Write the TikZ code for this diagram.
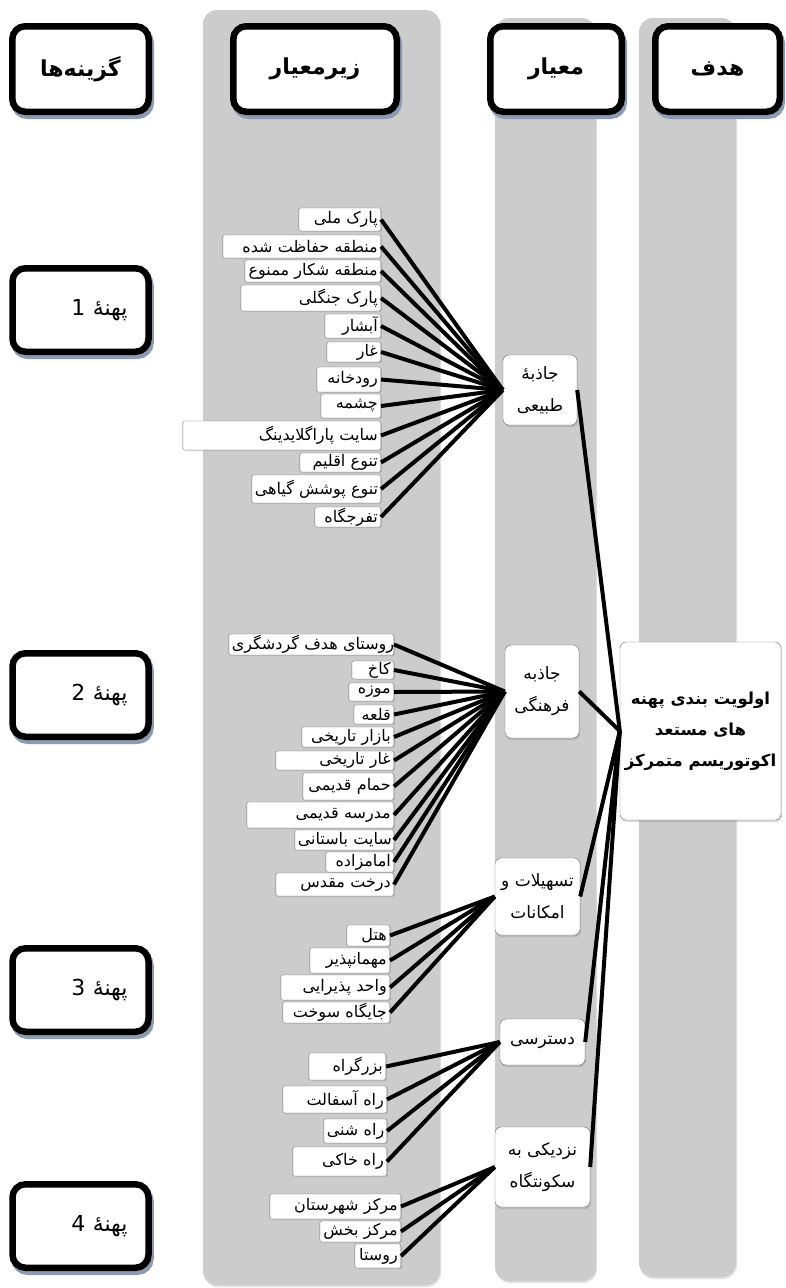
\documentclass[tikz,border=0pt]{standalone}
\usepackage{fontspec}
\usetikzlibrary{positioning,shadows}
\TeXXeTstate=1
\newfontfamily\arabicfont[Script=Arabic]{DejaVu Sans}
\definecolor{colBand}{RGB}{204,204,204}
\definecolor{colShadow}{RGB}{140,155,178}
\definecolor{colEdge}{RGB}{110,110,110}
\newcommand{\fa}[1]{\mbox{\beginR #1\endR}}

\begin{document}
\begin{tikzpicture}[x=1pt,y=-1pt,
  band/.style={fill=colBand, rounded corners=14pt,
    drop shadow={shadow xshift=1pt, shadow yshift=-2pt, fill=black, opacity=0.12}},
  headbox/.style={draw=black, line width=6.5pt, fill=white, rounded corners=13pt,
    minimum height=85.5pt, font=\arabicfont\bfseries\fontsize{22}{26}\selectfont,
    drop shadow={shadow xshift=2pt, shadow yshift=-4pt, fill=colShadow,
      draw=colShadow, line width=6.5pt, opacity=1}},
  altbox/.style={headbox, text width=94pt, inner xsep=21pt, align=right,
    font=\arabicfont\fontsize{22}{26}\selectfont},
  critbox/.style={draw=colEdge, fill=white, rounded corners=6pt, align=center,
    inner sep=2pt, font=\arabicfont\fontsize{17}{32}\selectfont,
    drop shadow={shadow xshift=1pt, shadow yshift=-2pt, opacity=0.3}},
  item/.style={draw=colEdge, fill=white, rounded corners=1.5pt, anchor=east,
    inner xsep=3pt, inner ysep=0pt, align=right,
    font=\arabicfont\fontsize{16}{18}\selectfont,
    drop shadow={shadow xshift=1pt, shadow yshift=-1pt, opacity=0.3}},
  link/.style={line width=4pt}
]
  \useasboundingbox (0,0) rectangle (785,1288);

  % grey bands behind the columns
  \fill[band] (203,10) rectangle (440,1285);
  \fill[band] (495,18) rectangle (596,1281);
  \fill[band] (639,18) rectangle (736,1277);

  % column heads
  \node[headbox, minimum width=136.5pt] (hdAlt) at (80.5,69) {\fa{گزینه‌ها}};
  \node[headbox, minimum width=163.5pt] (hdSub) at (315,69) {\fa{زیرمعیار}};
  \node[headbox, minimum width=131.5pt] (hdCrit) at (556,69) {\fa{معیار}};
  \node[headbox, minimum width=124.5pt] (hdGoal) at (717.5,69) {\fa{هدف}};

  % alternatives
  \node[altbox, minimum height=83.5pt] (alt1) at (80.5,310) {\fa{پهنهٔ 1}};
  \node[altbox, minimum height=83.5pt] (alt2) at (80.5,695) {\fa{پهنهٔ 2}};
  \node[altbox, minimum height=83.5pt] (alt3) at (80.5,990) {\fa{پهنهٔ 3}};
  \node[altbox, minimum height=83.5pt] (alt4) at (80.5,1226) {\fa{پهنهٔ 4}};

  % goal
  \node[critbox, minimum width=161pt, minimum height=178pt,
    font=\arabicfont\bfseries\fontsize{16.5}{31}\selectfont] (goal) at (700.5,731)
    {\fa{اولویت بندی پهنه}\\\fa{های مستعد}\\\fa{اکوتوریسم متمرکز}};

  % criteria
  \node[critbox, minimum width=74pt, minimum height=70pt] (crTab) at (540,390)
    {\fa{جاذبهٔ}\\\fa{طبیعی}};
  \node[critbox, minimum width=74pt, minimum height=93pt] (crFar) at (542,691.5)
    {\fa{جاذبه}\\\fa{فرهنگی}};
  \node[critbox, minimum width=85pt, minimum height=77pt] (crTas) at (537.5,896.5)
    {\fa{تسهیلات و}\\\fa{امکانات}};
  \node[critbox, minimum width=85pt, minimum height=46pt] (crDas) at (542.5,1042)
    {\fa{دسترسی}};
  \node[critbox, minimum width=95pt, minimum height=80pt] (crNaz) at (542.5,1167)
    {\fa{نزدیکی به}\\\fa{سکونتگاه}};

  % sub-criteria: natural
  \node[item, text width=76pt, minimum height=23pt] (tab1) at (381,219.5) {\fa{پارک ملی}};
  \node[item, text width=152pt, minimum height=23pt] (tab2) at (381,246.5) {\fa{منطقه حفاظت شده}};
  \node[item, text width=130pt, minimum height=22pt] (tab3) at (381,271) {\fa{منطقه شکار ممنوع}};
  \node[item, text width=134pt, minimum height=26pt] (tab4) at (381,298) {\fa{پارک جنگلی}};
  \node[item, text width=50pt, minimum height=24pt] (tab5) at (381,326) {\fa{آبشار}};
  \node[item, text width=48pt, minimum height=20pt] (tab6) at (381,352) {\fa{غار}};
  \node[item, text width=58pt, minimum height=25pt] (tab7) at (381,379.5) {\fa{رودخانه}};
  \node[item, text width=54pt, minimum height=24pt] (tab8) at (381,406) {\fa{چشمه}};
  \node[item, text width=192pt, minimum height=29pt] (tab9) at (381,435.5) {\fa{سایت پاراگلایدینگ}};
  \node[item, text width=75pt, minimum height=19pt] (tab10) at (381,462.5) {\fa{تنوع اقلیم}};
  \node[item, text width=123pt, minimum height=28pt] (tab11) at (381,489) {\fa{تنوع پوشش گیاهی}};
  \node[item, text width=60pt, minimum height=20pt] (tab12) at (381,517) {\fa{تفرجگاه}};

  % sub-criteria: cultural
  \node[item, text width=159pt, minimum height=21pt] (far1) at (394,644.5) {\fa{روستای هدف گردشگری}};
  \node[item, text width=36pt, minimum height=18pt] (far2) at (394,670) {\fa{کاخ}};
  \node[item, text width=39pt, minimum height=18pt] (far3) at (394,692) {\fa{موزه}};
  \node[item, text width=34pt, minimum height=19pt] (far4) at (394,714.5) {\fa{قلعه}};
  \node[item, text width=86pt, minimum height=20pt] (far5) at (394,737) {\fa{بازار تاریخی}};
  \node[item, text width=112pt, minimum height=19pt] (far6) at (394,760.5) {\fa{غار تاریخی}};
  \node[item, text width=85pt, minimum height=27pt] (far7) at (394,786.5) {\fa{حمام قدیمی}};
  \node[item, text width=141pt, minimum height=26pt] (far8) at (394,815) {\fa{مدرسه قدیمی}};
  \node[item, text width=93pt, minimum height=20pt] (far9) at (394,840) {\fa{سایت باستانی}};
  \node[item, text width=62pt, minimum height=20pt] (far10) at (394,862) {\fa{امامزاده}};
  \node[item, text width=112pt, minimum height=23pt] (far11) at (394,884.5) {\fa{درخت مقدس}};

  % sub-criteria: facilities
  \node[item, text width=37pt, minimum height=21pt] (tas1) at (390,935.5) {\fa{هتل}};
  \node[item, text width=74pt, minimum height=25pt] (tas2) at (390,960.5) {\fa{مهمانپذیر}};
  \node[item, text width=103pt, minimum height=25pt] (tas3) at (390,987.5) {\fa{واحد پذیرایی}};
  \node[item, text width=101pt, minimum height=21pt] (tas4) at (390,1012.5) {\fa{جایگاه سوخت}};

  % sub-criteria: access
  \node[item, text width=71pt, minimum height=27pt] (das1) at (386,1066.5) {\fa{بزرگراه}};
  \node[item, text width=98pt, minimum height=27pt] (das2) at (387,1099.5) {\fa{راه آسفالت}};
  \node[item, text width=57pt, minimum height=24pt] (das3) at (387,1131) {\fa{راه شنی}};
  \node[item, text width=88pt, minimum height=29pt] (das4) at (387,1161.5) {\fa{راه خاکی}};

  % sub-criteria: settlements
  \node[item, text width=125pt, minimum height=25pt] (naz1) at (401,1206.5) {\fa{مرکز شهرستان}};
  \node[item, text width=75pt, minimum height=21pt] (naz2) at (401,1231.5) {\fa{مرکز بخش}};
  \node[item, text width=40pt, minimum height=24pt] (naz3) at (401,1256) {\fa{روستا}};

  % connectors
  \foreach \i in {1,...,12} \draw[link] (tab\i.east) -- (crTab.west);
  \foreach \i in {1,...,11} \draw[link] (far\i.east) -- (crFar.west);
  \foreach \i in {1,...,4} \draw[link] (tas\i.east) -- (crTas.west);
  \foreach \i in {1,...,4} \draw[link] (das\i.east) -- (crDas.west);
  \foreach \i in {1,...,3} \draw[link] (naz\i.east) -- (crNaz.west);
  \foreach \c in {crTab,crFar,crTas,crDas,crNaz} \draw[link] (\c.east) -- (goal.west);
\end{tikzpicture}
\end{document}
